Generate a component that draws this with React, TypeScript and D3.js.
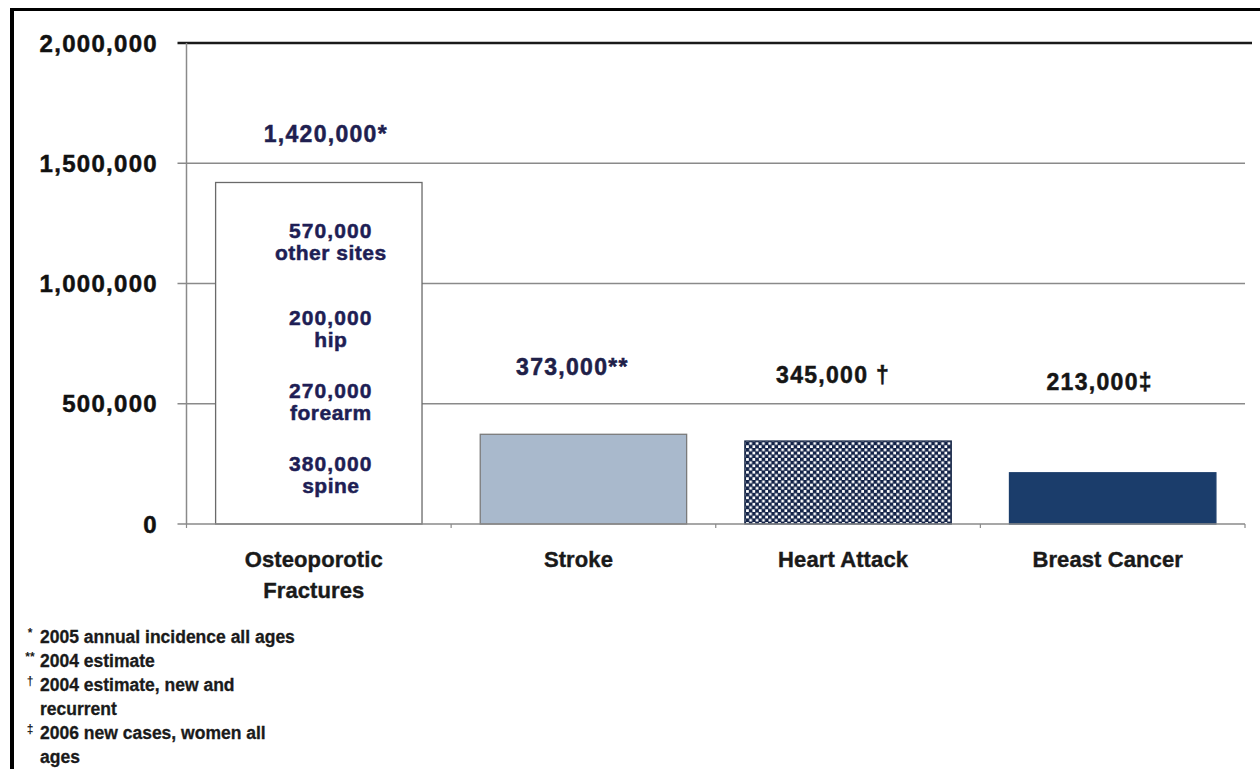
import React from "react";
import * as d3 from "d3";

const categories = ["Osteoporotic Fractures", "Stroke", "Heart Attack", "Breast Cancer"];
const categoryLines = [["Osteoporotic", "Fractures"], ["Stroke"], ["Heart Attack"], ["Breast Cancer"]];
const values = [1420000, 373000, 345000, 213000];
const valueLabels = ["1,420,000*", "373,000**", "345,000 \u2020", "213,000\u2021"];
const valueLabelAt = [1590000, 620000, 587000, 558000];
const yTicks = [0, 500000, 1000000, 1500000, 2000000];
const fractureParts = [
  { value: "570,000", site: "other sites", at: 1190000 },
  { value: "200,000", site: "hip", at: 827000 },
  { value: "270,000", site: "forearm", at: 523000 },
  { value: "380,000", site: "spine", at: 219000 },
];
const footnotes = [
  { sym: "*", lines: ["2005 annual incidence all ages"] },
  { sym: "**", lines: ["2004 estimate"] },
  { sym: "\u2020", lines: ["2004 estimate, new and", "recurrent"] },
  { sym: "\u2021", lines: ["2006 new cases, women all", "ages"] },
];

const W = 1260;
const H = 769;
const plot = { left: 186.5, right: 1245, top: 43, bottom: 524 };

export default function App() {
  const x = d3
    .scaleBand<string>()
    .domain(categories)
    .range([plot.left, plot.right])
    .paddingInner(0.22)
    .paddingOuter(0.11);
  const y = d3.scaleLinear().domain([0, 2000000]).range([plot.bottom, plot.top]);
  const fmt = d3.format(",");
  const font = "'Liberation Sans', Arial, sans-serif";
  const fills = ["#ffffff", "#a9b9cc", "url(#checker)", "#1b3d6b"];
  const strokes = ["#6a6a6a", "#7a7a7a", "#1a2a4a", "#1b3d6b"];
  const labelColors = ["#1f1f50", "#202048", "#151515", "#151515"];
  const labelNudge = [7, -11, -15, -13];
  const boundaries = d3.range(categories.length + 1).map((i) => plot.left + i * x.step());

  let lineNo = 0;
  const footBase = 643;
  const footStep = 24;

  return (
    <svg
      width={W}
      height={H}
      style={{ position: "absolute", left: 0, top: 0, background: "#fff" }}
      fontFamily={font}
    >
      <defs>
        <pattern id="checker" width="6.4" height="6.4" patternUnits="userSpaceOnUse" x={0} y={0}>
          <rect width="6.4" height="6.4" fill="#132348" />
          <rect x="0.5" y="0.5" width="2.7" height="2.7" fill="#ffffff" />
          <rect x="3.7" y="3.7" width="2.7" height="2.7" fill="#ffffff" />
        </pattern>
      </defs>
      <rect width={W} height={H} fill="#fff" />
      {/* frame */}
      <line x1={12} x2={12} y1={8} y2={H} stroke="#000" strokeWidth={4} />
      <line x1={10} x2={W} y1={9.5} y2={9.5} stroke="#000" strokeWidth={3} />

      {/* gridlines */}
      {yTicks.slice(1, -1).map((t) => (
        <line key={t} x1={plot.left - 9} x2={plot.right} y1={y(t)} y2={y(t)} stroke="#8a8a8a" strokeWidth={1.5} />
      ))}
      <line x1={plot.left - 9} x2={1252} y1={y(2000000)} y2={y(2000000)} stroke="#1a1a1a" strokeWidth={2.5} />
      {/* y axis */}
      <line x1={plot.left} x2={plot.left} y1={y(2000000)} y2={y(0)} stroke="#8a8a8a" strokeWidth={1.5} />
      {yTicks.map((t) => (
        <text
          key={t}
          x={158}
          y={y(t)}
          dy="0.36em"
          textAnchor="end"
          fontSize={24}
          fontWeight="bold"
          letterSpacing={1.3}
          fill="#111"
          stroke="#111"
          strokeWidth={0.5}
        >
          {fmt(t)}
        </text>
      ))}

      {/* bars */}
      {categories.map((c, i) => (
        <rect
          key={c}
          x={x(c)}
          y={y(values[i])}
          width={x.bandwidth()}
          height={y(0) - y(values[i])}
          fill={fills[i]}
          stroke={strokes[i]}
          strokeWidth={1.3}
        />
      ))}

      {/* x axis */}
      <line x1={plot.left - 9} x2={plot.right} y1={y(0)} y2={y(0)} stroke="#8a8a8a" strokeWidth={1.5} />
      {boundaries.map((b, i) => (
        <line key={i} x1={b} x2={b} y1={y(0)} y2={y(0) + 4} stroke="#8a8a8a" strokeWidth={1.2} />
      ))}

      {/* value labels */}
      {categories.map((c, i) => (
        <text
          key={c}
          x={(x(c) as number) + x.bandwidth() / 2 + labelNudge[i]}
          y={y(valueLabelAt[i])}
          textAnchor="middle"
          fontSize={23}
          fontWeight="bold"
          letterSpacing={1.3}
          fill={labelColors[i]}
          stroke={labelColors[i]}
          strokeWidth={0.5}
        >
          {valueLabels[i]}
        </text>
      ))}

      {/* fracture breakdown */}
      {fractureParts.map((p) => {
        const cx = (x(categories[0]) as number) + x.bandwidth() / 2 + 12;
        const by = y(p.at);
        return (
          <g key={p.site} fontWeight="bold" fill="#1e1e55" stroke="#1e1e55" strokeWidth={0.5} textAnchor="middle">
            <text x={cx} y={by} fontSize={21} letterSpacing={1.1}>
              {p.value}
            </text>
            <text x={cx} y={by + 22} fontSize={21} letterSpacing={0.5}>
              {p.site}
            </text>
          </g>
        );
      })}

      {/* category labels */}
      {categories.map((c, i) => (
        <text
          key={c}
          x={(x(c) as number) + x.bandwidth() / 2 - 5}
          y={567}
          textAnchor="middle"
          fontSize={22}
          fontWeight="bold"
          letterSpacing={0.1}
          fill="#1a1a1a"
          stroke="#1a1a1a"
          strokeWidth={0.4}
        >
          {categoryLines[i].map((ln, k) => (
            <tspan key={k} x={(x(c) as number) + x.bandwidth() / 2 - 5} dy={k === 0 ? 0 : 31}>
              {ln}
            </tspan>
          ))}
        </text>
      ))}

      {/* footnotes */}
      {footnotes.map((f) => {
        const start = lineNo;
        lineNo += f.lines.length;
        return (
          <g key={f.sym} fontWeight="bold" fill="#1a1a1a">
            <text x={30} y={footBase + start * footStep - 6} fontSize={12} textAnchor="middle">
              {f.sym}
            </text>
            {f.lines.map((ln, k) => (
              <text key={k} x={40} y={footBase + (start + k) * footStep} fontSize={17.5} stroke="#1a1a1a" strokeWidth={0.3}>
                {ln}
              </text>
            ))}
          </g>
        );
      })}
    </svg>
  );
}
